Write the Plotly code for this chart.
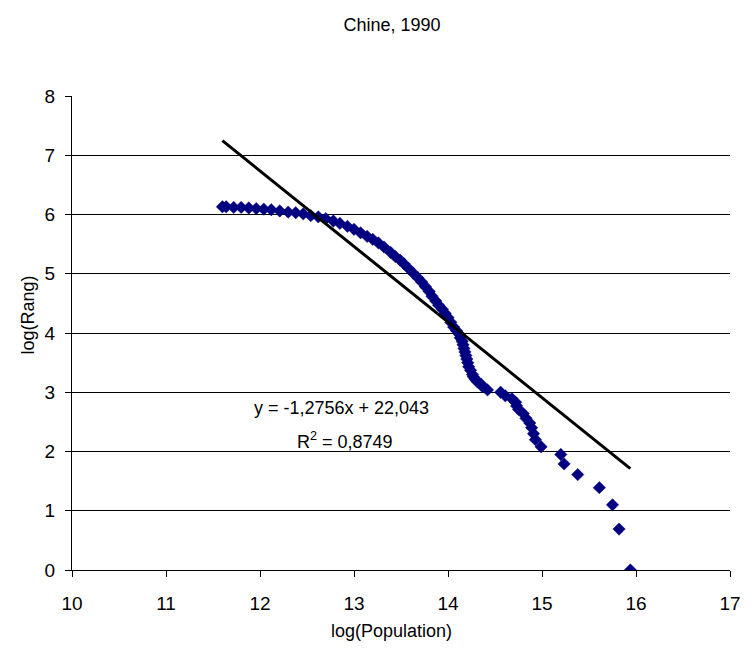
import plotly.graph_objects as go

# Read-off data: log(Population) vs log(Rang), Chinese cities 1990
log_pop = [
    15.94, 15.82, 15.75, 15.61, 15.38, 15.235, 15.20, 14.99, 14.93, 14.91,
    14.89, 14.87, 14.83, 14.80, 14.75, 14.73, 14.72, 14.68, 14.61, 14.56,
    14.42, 14.37, 14.35, 14.31, 14.29, 14.27, 14.26, 14.24, 14.22, 14.21,
    14.20, 14.19, 14.18, 14.17, 14.16, 14.15, 14.13, 14.12, 14.09, 14.06,
    14.03, 14.00, 13.97, 13.94, 13.90, 13.87, 13.83, 13.80, 13.76, 13.72,
    13.68, 13.63, 13.58, 13.53, 13.49, 13.44, 13.39, 13.32, 13.26, 13.20,
    13.14, 13.07, 13.00, 12.93, 12.85, 12.78, 12.70, 12.62, 12.54, 12.46,
    12.38, 12.30, 12.21, 12.12, 12.04, 11.96, 11.88, 11.80, 11.72, 11.64,
    11.60,
]
log_rang = [
    0.00, 0.69, 1.10, 1.39, 1.61, 1.79, 1.95, 2.08, 2.20, 2.30,
    2.40, 2.48, 2.56, 2.64, 2.71, 2.77, 2.83, 2.89, 2.94, 3.00,
    3.04, 3.09, 3.14, 3.18, 3.22, 3.26, 3.30, 3.37, 3.43, 3.50,
    3.56, 3.62, 3.68, 3.74, 3.80, 3.86, 3.92, 3.98, 4.04, 4.10,
    4.18, 4.26, 4.33, 4.40, 4.47, 4.54, 4.62, 4.70, 4.78, 4.86,
    4.93, 5.01, 5.09, 5.17, 5.23, 5.29, 5.36, 5.45, 5.52, 5.58,
    5.63, 5.69, 5.75, 5.80, 5.85, 5.89, 5.93, 5.96, 5.98, 6.01,
    6.03, 6.04, 6.06, 6.08, 6.09, 6.10, 6.11, 6.12, 6.12, 6.13,
    6.13,
]

# Linear trend line (Excel): y = -1,2756x + 22,043 ; R² = 0,8749
slope = -1.2756
intercept = 22.043
r2 = 0.8749

x_tick_vals = [10, 11, 12, 13, 14, 15, 16, 17]
y_tick_vals = [0, 1, 2, 3, 4, 5, 6, 7, 8]

x_line = [min(log_pop), max(log_pop)]
y_line = [slope * v + intercept for v in x_line]

FONT = "Liberation Sans, Arial, sans-serif"

fig = go.Figure()
fig.add_trace(go.Scatter(
    x=log_pop, y=log_rang, mode="markers",
    marker=dict(symbol="diamond", size=9.5, color="#000080",
                line=dict(width=0.5, color="#000080")),
    showlegend=False, hoverinfo="skip",
))
fig.add_trace(go.Scatter(
    x=x_line, y=y_line, mode="lines",
    line=dict(color="black", width=3),
    showlegend=False, hoverinfo="skip",
))

fig.add_annotation(
    x=12.87, y=2.73, xref="x", yref="y",
    text="y = -1,2756x + 22,043", showarrow=False,
    font=dict(family=FONT, size=18, color="black"),
)
fig.add_annotation(
    x=12.90, y=2.19, xref="x", yref="y",
    text="R<sup>2</sup> = 0,8749", showarrow=False,
    font=dict(family=FONT, size=18, color="black"),
)
# axis titles
fig.add_annotation(
    x=(395 - 72) / 665, y=-(631 - 570) / 474, xref="paper", yref="paper",
    text="log(Population)", showarrow=False, xanchor="center", yanchor="middle",
    font=dict(family=FONT, size=18, color="black"),
)
fig.add_annotation(
    x=-(72 - 28) / 665, y=(570 - 315) / 474, xref="paper", yref="paper",
    text="log(Rang)", showarrow=False, textangle=-90,
    xanchor="center", yanchor="middle",
    font=dict(family=FONT, size=18, color="black"),
)

fig.update_layout(
    width=753, height=660,
    margin=dict(l=72, r=16, t=96, b=90),
    paper_bgcolor="white", plot_bgcolor="white",
    font=dict(family=FONT, size=18, color="black"),
    title=dict(text="Chine, 1990", x=(392 - 0) / 753, xanchor="center",
               y=1 - 25 / 660, yanchor="middle",
               font=dict(family=FONT, size=18, color="black")),
    xaxis=dict(
        range=[10, 17], tickvals=x_tick_vals, showgrid=False,
        zeroline=False, showline=True, linecolor="black", linewidth=1,
        ticks="outside", ticklen=6, tickcolor="black",
        ticklabelstandoff=10,
        tickfont=dict(family=FONT, size=19),
    ),
    yaxis=dict(
        range=[0, 8], tickvals=y_tick_vals, showgrid=True,
        gridcolor="black", gridwidth=1,
        zeroline=False, showline=True, linecolor="black", linewidth=1,
        ticks="outside", ticklen=6, tickcolor="black",
        ticklabelstandoff=6,
        tickfont=dict(family=FONT, size=19),
    ),
)

fig.write_html("out.html")
